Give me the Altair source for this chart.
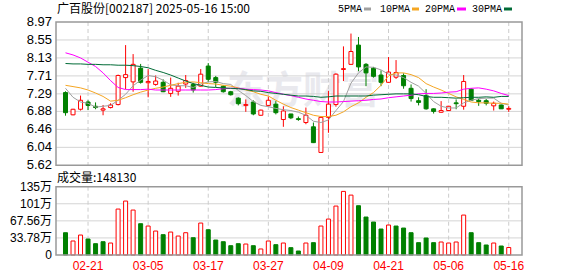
import altair as alt
import pandas as pd

# ---------------- data ----------------
dates = ["02-18","02-19","02-20","02-21","02-24","02-25","02-26","02-27","02-28",
         "03-03","03-04","03-05","03-06","03-07","03-10","03-11","03-12","03-13","03-14",
         "03-17","03-18","03-19","03-20","03-21","03-24","03-25","03-26","03-27","03-28","03-31",
         "04-01","04-02","04-03","04-07","04-08","04-09","04-10","04-11","04-14","04-15",
         "04-16","04-17","04-18","04-21","04-22","04-23","04-24","04-25","04-28","04-29","04-30",
         "05-06","05-07","05-08","05-09","05-12","05-13","05-14","05-15","05-16"]

opens  = [7.32,6.80,6.93,7.10,7.00,6.91,6.97,7.04,7.67,7.57,7.89,7.55,7.51,7.56,7.30,7.35,7.52,7.51,7.47,7.94,
          7.67,7.47,7.34,7.19,7.02,7.10,6.79,7.02,7.05,6.69,6.82,6.71,6.62,6.52,5.92,6.74,7.04,7.86,7.98,8.43,
          7.98,7.89,7.73,7.56,7.68,7.72,7.42,7.13,7.25,6.94,6.86,6.90,7.08,7.00,7.40,7.14,7.13,7.01,7.03,6.93]
highs  = [7.35,6.94,7.25,7.14,7.09,7.03,7.07,7.74,8.43,8.22,7.99,7.87,7.72,7.63,7.67,7.55,7.73,7.55,7.87,8.01,
          7.71,7.49,7.36,7.21,7.16,7.14,6.92,7.23,7.12,7.00,6.82,6.76,6.97,6.62,6.77,7.36,7.77,8.40,8.70,8.62,
          8.01,7.92,7.84,8.15,8.08,7.77,7.51,7.21,7.40,6.95,7.12,7.01,7.16,7.73,7.42,7.18,7.17,7.11,7.04,7.00]
lows   = [6.78,6.79,6.90,6.91,6.93,6.79,6.95,7.02,7.40,7.34,7.53,7.21,7.48,7.33,7.22,7.25,7.43,7.32,7.46,7.56,
          7.45,7.32,7.25,7.02,6.87,6.79,6.78,7.00,6.81,6.52,6.70,6.66,6.58,6.14,5.92,6.38,6.99,7.59,7.97,7.82,
          7.47,7.67,7.47,7.55,7.64,7.41,7.11,7.02,6.92,6.83,6.85,6.89,6.93,6.92,7.13,7.01,7.02,6.90,6.94,6.87]
closes = [6.85,6.93,7.14,7.02,6.97,6.94,7.03,7.72,7.74,7.98,7.56,7.58,7.59,7.34,7.42,7.47,7.60,7.38,7.75,7.63,
          7.56,7.34,7.27,7.06,7.04,6.82,6.91,7.14,6.85,6.89,6.73,6.69,6.79,6.15,6.74,7.05,7.75,7.88,8.28,7.92,
          7.78,7.70,7.56,7.80,7.79,7.48,7.18,7.09,6.94,6.88,6.90,7.00,7.06,7.58,7.14,7.11,7.07,7.07,6.94,6.95]

ma5  = [7.42,7.21,7.10,7.07,6.98,7.00,7.02,7.14,7.28,7.48,7.61,7.72,7.69,7.61,7.50,7.48,7.48,7.44,7.52,7.57,
        7.58,7.53,7.51,7.37,7.25,7.11,7.02,6.99,6.95,6.92,6.90,6.86,6.79,6.65,6.62,6.68,6.90,7.11,7.54,7.78,
        7.92,7.91,7.85,7.75,7.73,7.67,7.56,7.47,7.30,7.11,7.00,6.96,6.96,7.08,7.14,7.18,7.19,7.19,7.07,7.03]
ma10 = [7.49,7.46,7.43,7.38,7.31,7.23,7.12,7.14,7.20,7.27,7.33,7.38,7.42,7.45,7.49,7.53,7.56,7.57,7.55,7.53,
        7.52,7.49,7.47,7.43,7.38,7.34,7.28,7.24,7.14,7.05,6.97,6.91,6.85,6.79,6.76,6.76,6.79,6.87,6.99,7.08,
        7.21,7.32,7.49,7.71,7.78,7.78,7.74,7.67,7.53,7.45,7.38,7.30,7.22,7.16,7.10,7.08,7.08,7.07,7.07,7.05]
ma20 = [8.25,8.20,8.13,8.03,7.93,7.78,7.60,7.44,7.39,7.39,7.39,7.40,7.38,7.38,7.38,7.38,7.38,7.38,7.38,7.38,
        7.39,7.41,7.42,7.42,7.40,7.39,7.38,7.36,7.32,7.28,7.25,7.21,7.17,7.14,7.11,7.10,7.10,7.11,7.12,7.13,
        7.14,7.16,7.17,7.20,7.22,7.24,7.26,7.29,7.30,7.30,7.31,7.33,7.34,7.40,7.42,7.43,7.40,7.36,7.30,7.25]
ma30 = [8.00,7.99,7.99,7.98,7.98,7.97,7.97,7.96,7.96,7.95,7.93,7.90,7.84,7.79,7.73,7.66,7.59,7.53,7.49,7.45,
        7.44,7.43,7.42,7.41,7.39,7.36,7.35,7.32,7.30,7.28,7.26,7.24,7.24,7.23,7.21,7.22,7.24,7.24,7.24,7.24,
        7.24,7.26,7.27,7.28,7.29,7.29,7.29,7.27,7.23,7.21,7.21,7.20,7.19,7.20,7.21,7.21,7.22,7.21,7.23,7.23]

# volume in 万 (10k shares)
volume = [44.1,27.7,39.5,31.6,22.4,26.3,23.7,90.9,106.7,88.9,61.9,57.3,47.4,40.2,45.4,37.5,44.1,34.2,63.2,50.0,
          29.6,26.3,18.4,22.4,21.7,18.4,11.9,27.7,20.4,23.7,14.5,7.9,23.7,24.4,57.3,71.1,96.8,125.8,118.5,97.5,
          75.1,65.2,51.4,59.3,57.3,53.3,44.1,24.4,33.6,24.4,25.7,23.7,25.7,79.0,44.1,24.4,19.8,23.7,17.8,14.813]
vol_up = "".join(["grrgggrrrr", "grrgrrrgrg", "ggggrgrrgr", "ggrgrrrrrg", "gggrgggggg", "rrrrgggrgr"])

price_ticks = [8.97, 8.55, 8.13, 7.71, 7.29, 6.88, 6.46, 6.04, 5.62]
vol_ticks = [0, 33.78, 67.56, 101.34, 135.12]
vol_tick_labels = ["0", "33.78万", "67.56万", "101万", "135万"]
date_tick_idx = [3, 11, 19, 27, 35, 43, 51, 59]

title_text = "广百股份[002187] 2025-05-16 15:00"
vol_title = "成交量:148130"
legend_names = ["5PMA", "10PMA", "20PMA", "30PMA"]
watermark = "东方财富"

# ---------------- styles ----------------
RED = "#ff0000"
GREEN = "#008000"
MA_COLORS = ["#a0a0a0", "#f5a623", "#ff00ff", "#006b36"]
W, H = 466, 233
PRICE_BOTTOM = 143.3
VOL_TOP = 164.7

xs = alt.Scale(domain=[-0.6, 60.1], nice=False, zero=False)
ps = alt.Scale(domain=[3.523, 8.97], nice=False, zero=False)
vs = alt.Scale(domain=[0, 460.9], nice=False, zero=False)

n = len(dates)
df = pd.DataFrame({
    "i": list(range(n)), "date": dates,
    "open": opens, "high": highs, "low": lows, "close": closes,
    "vol": volume,
})
df["dir"] = ["up" if c >= o else "down" for o, c in zip(opens, closes)]
df["vdir"] = ["up" if ch == "r" else "down" for ch in vol_up]

X = alt.X("i:Q", scale=xs, axis=None)

# gridlines
pg = pd.DataFrame({"p": price_ticks[1:-1]})
price_grid = alt.Chart(pg).mark_rule(color="#d4d4d4", strokeWidth=1).encode(
    y=alt.Y("p:Q", scale=ps, axis=None), x=alt.value(0), x2=alt.value(W))
vg = pd.DataFrame({"v": vol_ticks[1:-1]})
vol_grid = alt.Chart(vg).mark_rule(color="#d4d4d4", strokeWidth=1).encode(
    y=alt.Y("v:Q", scale=vs, axis=None), x=alt.value(0), x2=alt.value(W))

dg = pd.DataFrame({"i": date_tick_idx, "label": [dates[k] for k in date_tick_idx]})
vgrid_p = alt.Chart(dg).mark_rule(color="#cccccc", strokeDash=[4, 3], strokeWidth=1).encode(
    x=X, y=alt.value(0), y2=alt.value(PRICE_BOTTOM))
vgrid_v = alt.Chart(dg).mark_rule(color="#cccccc", strokeDash=[4, 3], strokeWidth=1).encode(
    x=X, y=alt.value(VOL_TOP), y2=alt.value(H))

one = pd.DataFrame({"a": [0]})
border_p = alt.Chart(one).mark_rect(fill=None, stroke="#999999", strokeWidth=1.5).encode(
    x=alt.value(0), x2=alt.value(W), y=alt.value(0), y2=alt.value(PRICE_BOTTOM))
border_v = alt.Chart(one).mark_rect(fill=None, stroke="#999999", strokeWidth=1.5).encode(
    x=alt.value(0), x2=alt.value(W), y=alt.value(VOL_TOP), y2=alt.value(H))

# watermark
wm = alt.Chart(pd.DataFrame({"t": [watermark]})).mark_text(
    font="Noto Sans CJK SC", fontSize=38, fontWeight="bold", color="#e9e9ee", align="center", baseline="middle"
).encode(text="t:N", x=alt.value(247), y=alt.value(70))

# candles
wick = alt.Chart(df).mark_rule(strokeWidth=1).encode(
    x=X, y=alt.Y("low:Q", scale=ps, axis=None), y2="high:Q",
    color=alt.Color("dir:N", scale=alt.Scale(domain=["up", "down"], range=[RED, GREEN]), legend=None))
body = alt.Chart(df).mark_bar(size=4, strokeWidth=1).encode(
    x=X, y=alt.Y("open:Q", scale=ps, axis=None), y2="close:Q",
    fill=alt.Fill("dir:N", scale=alt.Scale(domain=["up", "down"], range=["#ffffff", GREEN]), legend=None),
    stroke=alt.Stroke("dir:N", scale=alt.Scale(domain=["up", "down"], range=[RED, GREEN]), legend=None))

ma_layers = []
for series, col in zip([ma5, ma10, ma20, ma30], MA_COLORS):
    mdf = pd.DataFrame({"i": list(range(n)), "m": series})
    ma_layers.append(alt.Chart(mdf).mark_line(color=col, strokeWidth=1).encode(
        x=X, y=alt.Y("m:Q", scale=ps, axis=None)))

# volume
vbar = alt.Chart(df).mark_bar(size=4, strokeWidth=1).encode(
    x=X, y=alt.Y("vol:Q", scale=vs, axis=None), y2=alt.datum(0),
    fill=alt.Fill("vdir:N", scale=alt.Scale(domain=["up", "down"], range=["#ffffff", GREEN]), legend=None),
    stroke=alt.Stroke("vdir:N", scale=alt.Scale(domain=["up", "down"], range=[RED, GREEN]), legend=None))

# axis labels
plab = pd.DataFrame({"p": price_ticks, "t": [f"{v:.2f}" for v in price_ticks]})
price_labels = alt.Chart(plab).mark_text(
    font="Liberation Sans", fontSize=13, align="right", baseline="middle", color="#000000"
).encode(y=alt.Y("p:Q", scale=ps, axis=None), x=alt.value(-4), text="t:N")
vlab = pd.DataFrame({"v": vol_ticks, "t": vol_tick_labels})
vol_labels = alt.Chart(vlab).mark_text(
    font="Liberation Sans, Noto Sans CJK SC", fontSize=12, align="right", baseline="middle", color="#000000"
).encode(y=alt.Y("v:Q", scale=vs, axis=None), x=alt.value(-4), text="t:N")
date_labels = alt.Chart(dg).mark_text(
    font="Liberation Sans", fontSize=12, align="center", baseline="middle", color=RED
).encode(x=X, y=alt.value(H + 11), text="label:N")

title = alt.Chart(pd.DataFrame({"t": [title_text]})).mark_text(
    font="Noto Sans CJK SC", fontSize=12, align="left", baseline="middle", color="#000000"
).encode(text="t:N", x=alt.value(1), y=alt.value(-13))
vtitle = alt.Chart(pd.DataFrame({"t": [vol_title]})).mark_text(
    font="Noto Sans CJK SC", fontSize=12, align="left", baseline="middle", color="#000000"
).encode(text="t:N", x=alt.value(1), y=alt.value(156))

# legend (label then colored dash)
leg_x = [282, 324, 369, 416]
leg_dash = [(308, 315), (356, 363), (401, 410), (448, 456)]
legend_layers = []
for name, col, lx, (d0, d1) in zip(legend_names, MA_COLORS, leg_x, leg_dash):
    legend_layers.append(alt.Chart(pd.DataFrame({"t": [name]})).mark_text(
        font="Liberation Mono", fontSize=10, align="left", baseline="middle", color="#000000"
    ).encode(text="t:N", x=alt.value(lx), y=alt.value(-13)))
    legend_layers.append(alt.Chart(one).mark_rule(color=col, strokeWidth=3).encode(
        x=alt.value(d0), x2=alt.value(d1), y=alt.value(-13)))

chart = alt.layer(
    wm, price_grid, vol_grid, vgrid_p, vgrid_v,
    wick, body, *ma_layers, vbar,
    border_p, border_v,
    price_labels, vol_labels, date_labels, title, vtitle, *legend_layers
).resolve_scale(y="independent", fill="independent", stroke="independent", color="independent").properties(
    width=W, height=H,
    padding={"left": 56, "top": 22, "right": 56, "bottom": 21},
    autosize=alt.AutoSizeParams(type="none"),
    background="#ffffff",
).configure_view(stroke=None)

chart.save("out.html", embed_options={"renderer": "svg", "actions": False})
